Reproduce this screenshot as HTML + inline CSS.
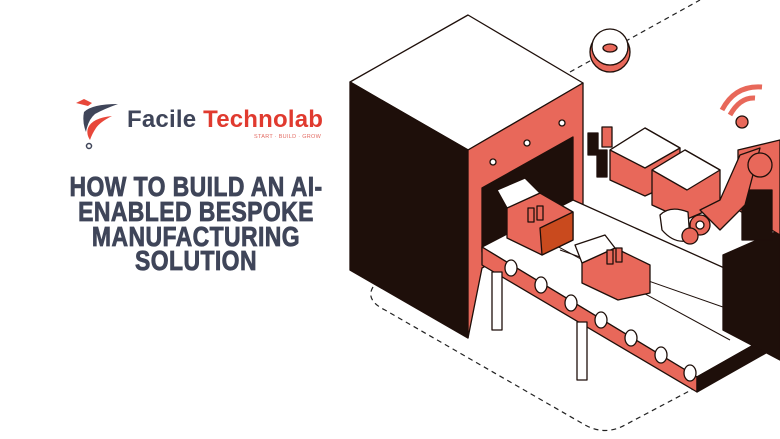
<!DOCTYPE html>
<html><head><meta charset="utf-8"><style>
html,body{margin:0;padding:0;background:#fff;width:780px;height:439px;overflow:hidden;position:relative;font-family:"Liberation Sans",sans-serif}
.logo{position:absolute;left:127px;top:106px;font-size:24px;font-weight:bold;letter-spacing:0.2px;white-space:nowrap}
.tag{position:absolute;left:254px;top:134px;font-size:5.5px;color:#e36b63;letter-spacing:0.3px}
.title{position:absolute;left:196px;top:174px;width:0;}
.title div{position:absolute;white-space:nowrap;font-weight:900;font-size:28px;color:#3f4559;transform:translateX(-50%) scaleX(0.82);letter-spacing:0.5px;line-height:25px;-webkit-text-stroke:0.8px #3f4559}
</style></head><body>
<svg style="position:absolute;left:0;top:0" width="780" height="439">
<path d="M76 103 L84 99 L92 103 L88 106 Z" fill="#e8473a"/>
<path d="M84 112 Q92 104 118 104 Q104 109 95 114 Q88 120 86 132 Q82 122 84 112 Z" fill="#3f4559"/>
<path d="M88 128 Q92 118 112 116 Q100 122 96 128 Q92 134 90 140 Q86 134 88 128 Z" fill="#e8473a"/>
<circle cx="89" cy="146" r="2.5" fill="none" stroke="#3f4559" stroke-width="1.5"/>
<path d="M570 72 L700 0" stroke="#222" stroke-width="1.2" stroke-dasharray="5 4" fill="none"/>
<path d="M373 287 Q365 300 385 310 L585 425 Q605 436 625 425 L695 388" stroke="#222" stroke-width="1.2" stroke-dasharray="5 4" fill="none"/>
<path d="M700 280 L740 305" stroke="#222" stroke-width="1.2" stroke-dasharray="5 4" fill="none"/>
<g stroke="#1e0f0a" stroke-width="1.3" stroke-linejoin="round">
<polygon points="350,82 468,15 583,83 468,150" fill="#fff"/>
<polygon points="350,82 468,150 468,338 350,270" fill="#1e0f0a"/>
<polygon points="468,150 583,83 583,210 482,268 468,338" fill="#e8685a"/>
<polygon points="482,188 573,137 573,200 482,252" fill="#1e0f0a"/>
<circle cx="493" cy="162" r="3" fill="#fff"/><circle cx="527" cy="143" r="3" fill="#fff"/><circle cx="562" cy="123" r="3" fill="#fff"/>
<polygon points="610,150 645,128 680,148 680,180 645,196 610,180" fill="#e8685a"/>
<polygon points="610,150 645,128 680,148 645,168" fill="#fff"/>
<polygon points="652,170 685,150 720,170 720,205 685,220 652,205" fill="#e8685a"/>
<polygon points="652,170 685,150 720,170 687,190" fill="#fff"/>
<rect x="588" y="133" width="10" height="22" fill="#1e0f0a"/>
<rect x="602" y="127" width="10" height="20" fill="#e8685a"/>
<rect x="597" y="150" width="10" height="27" fill="#1e0f0a"/>
<polygon points="482,247 573,200 780,293 780,330 697,377" fill="#fff"/>
<polygon points="482,247 697,377 697,392 482,265" fill="#e8685a"/>
<polygon points="697,377 780,330 780,345 697,392" fill="#1e0f0a"/>
<line x1="520" y1="226" x2="730" y2="340" stroke-width="1"/>
<line x1="560" y1="250" x2="760" y2="320" stroke-width="1"/>
<ellipse cx="511" cy="268" rx="6" ry="8" fill="#fff"/><ellipse cx="541" cy="285" rx="6" ry="8" fill="#fff"/>
<ellipse cx="571" cy="303" rx="6" ry="8" fill="#fff"/><ellipse cx="601" cy="320" rx="6" ry="8" fill="#fff"/>
<ellipse cx="631" cy="338" rx="6" ry="8" fill="#fff"/><ellipse cx="661" cy="355" rx="6" ry="8" fill="#fff"/><ellipse cx="690" cy="373" rx="6" ry="8" fill="#fff"/>
<rect x="492" y="272" width="10" height="58" fill="#fff"/>
<rect x="577" y="322" width="10" height="58" fill="#fff"/>
<polygon points="507,208 540,193 573,212 573,240 542,255 507,238" fill="#e8685a"/>
<polygon points="540,228 573,212 573,240 542,255" fill="#c94a1e"/>
<polygon points="497,190 525,178 540,193 507,208" fill="#fff"/>
<rect x="528" y="208" width="6" height="14" fill="#e8685a"/><rect x="537" y="206" width="6" height="14" fill="#e8685a"/>
<polygon points="582,263 615,248 650,265 650,293 618,300 582,283" fill="#e8685a"/>
<polygon points="575,245 605,235 615,248 582,263" fill="#fff"/>
<rect x="607" y="250" width="6" height="14" fill="#e8685a"/><rect x="616" y="248" width="6" height="14" fill="#e8685a"/>
<polygon points="723,255 780,230 780,360 723,330" fill="#1e0f0a"/>
<polygon points="738,150 780,140 780,235 738,210" fill="#e8685a"/>
<rect x="742" y="190" width="30" height="50" fill="#1e0f0a"/>
<polygon points="700,210 720,200 740,155 760,148 745,205 720,230" fill="#e8685a"/>
<circle cx="760" cy="165" r="12" fill="#e8685a"/>
<circle cx="700" cy="225" r="10" fill="#e8685a"/><circle cx="700" cy="225" r="4" fill="#fff"/>
<path d="M660 215 Q670 205 688 212 L690 240 Q675 245 662 230 Z" fill="#fff"/>
<circle cx="690" cy="236" r="8" fill="#e8685a"/>
<circle cx="610" cy="52" r="20" fill="#e8685a"/>
<circle cx="610" cy="47" r="18" fill="#fff"/>
<ellipse cx="610" cy="48" rx="7" ry="4" fill="#e8685a"/>
<path d="M722 110 Q735 85 762 87" fill="none" stroke="#e8685a" stroke-width="5"/>
<path d="M730 115 Q740 97 755 98" fill="none" stroke="#e8685a" stroke-width="5"/>
<circle cx="742" cy="122" r="6" fill="#e8685a"/>
</g>
</svg>
<div class="logo"><span style="color:#3f4559">Facile </span><span style="color:#e03a2f">Technolab</span></div>
<div class="tag">START · BUILD · GROW</div>
<div class="title">
<div style="top:0">HOW TO BUILD AN AI-</div>
<div style="top:25px">ENABLED BESPOKE</div>
<div style="top:50px">MANUFACTURING</div>
<div style="top:74px">SOLUTION</div>
</div>
</body></html>
